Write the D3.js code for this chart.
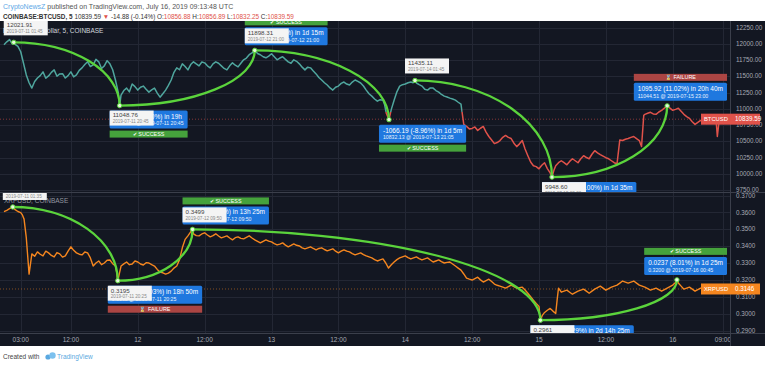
<!DOCTYPE html>
<html>
<head>
<meta charset="utf-8">
<script src="https://cdn.jsdelivr.net/npm/d3@7/dist/d3.min.js"></script>
<style>
  body { margin: 0; background: #fff; }
  svg { display: block; font-family: "Liberation Sans", Arial, sans-serif; }
</style>
</head>
<body>
<svg id="chart" width="768" height="366"></svg>
<script>
// hours after 2019-07-11 00:00 UTC
const btcHours = [0,1,1.75,2,3,4,5,6,7,8,9,10,11,12,13,14,15,16,17,18,19,20,20.75,21,22,23,24,25,26,27,28,29,30,31,32,33,34,35,36,37,38,39,40,41,42,43,44,45,46,47,48,49,50,51,52,53,54,55,56,57,58,59,60,61,62,63,64,65,66,67,68,68.6,69.08,69.5,70,71,72,73,73.75,74,75,76,77,78,79,80,81,82,82.5,83,84,85,86,87,88,89,90,91,92,93,94,95,96,97,98,98.33,99,100,101,102,103,104,105,106,107,108,109,110,110.5,111,112,113,114,114.4,114.8,115,116,117,118,119,120,121,122,123,124,125,126,127,127.8,128,128.3,129,129.22];
const btcPrices = [11986,12064,12021.91,11990,11877,11520,11318,11473,11567,11505,11598,11536,11473,11567,11520,11629,11722,11675,11722,11660,11691,11442,11048.76,11210,11318,11380,11287,11349,11256,11318,11178,11287,11442,11629,11691,11598,11722,11660,11706,11629,11722,11660,11598,11706,11644,11753,11831,11898.31,11831,11784,11846,11753,11800,11722,11753,11691,11598,11629,11536,11442,11365,11287,11349,11411,11365,11442,11396,11287,11194,11116,11132,10930,10832.13,10990,11132,11349,11380,11411,11435.11,11396,11349,11287,11318,11256,11194,11163,11132,11070,10760,10728,10697,10666,10728,10573,10464,10511,10589,10542,10417,10511,10278,10122,10076,10169,10014,9948.60,10122,10200,10138,10231,10169,10278,10231,10355,10293,10247,10200,10153,10520,10511,10542,10573,10511,10420,10900,10914,10945,10914,10976,11044.51,10976,11007,10914,10852,10759,10821,10775,10852,10800,10573,10800,10860,10839.59];
// in-between readings of the same line
const btcMidHours = [0.5,1.5,2.5,3.5,4.5,5.5,6.5,7.5,8.5,9.5,10.5,11.5,12.5,13.5,14.5,15.5,16.5,17.5,18.5,19.5,20.5,21.5,22.5,23.5,24.5,25.5,26.5,27.5,28.5,29.5,30.5,31.5,32.5,33.5,34.5,35.5,36.5,37.5,38.5,39.5,40.5,41.5,42.5,43.5,44.5,45.5,46.5,47.5,48.5,49.5,50.5,51.5,52.5,53.5,54.5,55.5,56.5,57.5,58.5,59.5,60.5,61.5,62.5,63.5,64.5,65.5,66.5,67.5,68.3,70.5,71.5,72.5,73.4,74.5,75.5,76.5,77.5,78.5,79.5,80.5,81.5,83.5,84.5,85.5,86.5,87.5,88.5,89.5,90.5,91.5,92.5,93.5,94.5,95.5,96.5,97.5,98.7,99.5,100.5,101.5,102.5,103.5,104.5,105.5,106.5,107.5,108.5,109.5,111.5,112.5,113.5,115.5,116.5,117.5,118.5,119.5,120.5,121.5,122.5,123.5,124.5,125.5,126.5,128.6];
const btcMidPrices = [12030,11995,11960,11700,11400,11420,11510,11470,11560,11500,11540,11510,11490,11590,11680,11650,11760,11620,11740,11600,11250,11280,11260,11340,11330,11300,11290,11240,11230,11360,11560,11600,11650,11680,11690,11720,11660,11690,11700,11620,11660,11670,11700,11780,11860,11850,11800,11810,11800,11780,11760,11700,11730,11640,11640,11580,11480,11400,11320,11330,11390,11380,11410,11420,11350,11230,11150,11140,11060,11260,11370,11400,11400,11370,11300,11320,11280,11220,11180,11150,11100,10690,10720,10700,10640,10520,10480,10560,10560,10470,10460,10380,10180,10110,10130,10080,10060,10170,10170,10190,10200,10230,10250,10300,10320,10270,10230,10170,10530,10560,10540,10930,10920,10950,11010,11010,10990,10960,10880,10800,10790,10800,10810,10820];

const xrpHours = [0,1,1.58,2,3,3.6,4,4.5,5,6,7,8,9,10,11,12,13,14,15,16,17,18,19,20,20.42,21,22,23,24,25,26,27,28,29,30,31,32,33,33.83,34,35,36,37,38,39,40,41,42,43,44,45,46,47,48,49,50,51,52,53,54,55,56,57,58,59,60,61,62,63,64,65,66,67,68,69,70,71,72,73,74,75,76,77,78,79,80,81,82,83,84,85,86,87,88,89,90,91,92,93,94,95,96,96.25,97,98,99,99.5,100,101,102,103,104,105,106,107,108,109,110,111,112,113,114,115,116,117,118,119,120,120.75,121,122,123,124,125,126,127,128,129,129.22];
const xrpPrices = [0.3604,0.3622,0.3632,0.3616,0.3599,0.3560,0.3450,0.3234,0.3354,0.3366,0.3342,0.3360,0.3336,0.3354,0.3342,0.3396,0.3360,0.3348,0.3360,0.3282,0.3312,0.3300,0.3318,0.3282,0.3195,0.3282,0.3306,0.3294,0.3306,0.3288,0.3300,0.3282,0.3246,0.3234,0.3252,0.3282,0.3390,0.3461,0.3499,0.3473,0.3461,0.3479,0.3455,0.3473,0.3449,0.3461,0.3437,0.3455,0.3443,0.3461,0.3437,0.3419,0.3437,0.3425,0.3407,0.3419,0.3396,0.3413,0.3401,0.3384,0.3396,0.3378,0.3390,0.3372,0.3384,0.3360,0.3378,0.3366,0.3348,0.3360,0.3342,0.3330,0.3312,0.3324,0.3270,0.3306,0.3330,0.3342,0.3324,0.3336,0.3318,0.3330,0.3306,0.3318,0.3300,0.3306,0.3282,0.3258,0.3210,0.3199,0.3216,0.3187,0.3204,0.3175,0.3163,0.3151,0.3169,0.3151,0.3157,0.3121,0.3079,0.3043,0.2961,0.3007,0.3031,0.3001,0.3151,0.3127,0.3139,0.3115,0.3133,0.3145,0.3121,0.3145,0.3163,0.3139,0.3157,0.3169,0.3193,0.3181,0.3193,0.3169,0.3157,0.3139,0.3151,0.3133,0.3151,0.3169,0.3200,0.3181,0.3145,0.3157,0.3133,0.3151,0.3139,0.3163,0.3127,0.3150,0.3146];
const xrpMidHours = [0.5,1.3,2.5,3.3,5.5,6.5,7.5,8.5,9.5,10.5,11.5,12.5,13.5,14.5,15.5,16.5,17.5,18.5,19.5,20.2,21.5,22.5,23.5,24.5,25.5,26.5,27.5,28.5,29.5,30.5,31.5,32.5,33.4,34.5,35.5,36.5,37.5,38.5,39.5,40.5,41.5,42.5,43.5,44.5,45.5,46.5,47.5,48.5,49.5,50.5,51.5,52.5,53.5,54.5,55.5,56.5,57.5,58.5,59.5,60.5,61.5,62.5,63.5,64.5,65.5,66.5,67.5,68.5,69.5,70.5,71.5,72.5,73.5,74.5,75.5,76.5,77.5,78.5,79.5,80.5,81.5,82.5,83.5,84.5,85.5,86.5,87.5,88.5,89.5,90.5,91.5,92.5,93.5,94.5,95.5,96.1,96.6,97.5,98.5,99.25,99.75,100.5,101.5,102.5,103.5,104.5,105.5,106.5,107.5,108.5,109.5,110.5,111.5,112.5,113.5,114.5,115.5,116.5,117.5,118.5,119.5,120.5,121.5,122.5,123.5,124.5,125.5,126.5,127.5,128.5];
const xrpMidPrices = [0.3612,0.3628,0.3605,0.3585,0.3340,0.3352,0.3370,0.3345,0.3362,0.3335,0.3370,0.3375,0.3352,0.3365,0.3330,0.3300,0.3290,0.3316,0.3296,0.3250,0.3295,0.3290,0.3312,0.3294,0.3302,0.3290,0.3262,0.3242,0.3240,0.3270,0.3320,0.3440,0.3480,0.3462,0.3472,0.3466,0.3462,0.3460,0.3455,0.3448,0.3450,0.3446,0.3452,0.3448,0.3428,0.3428,0.3430,0.3415,0.3412,0.3406,0.3404,0.3405,0.3390,0.3390,0.3386,0.3386,0.3380,0.3378,0.3370,0.3370,0.3370,0.3356,0.3354,0.3350,0.3336,0.3320,0.3318,0.3300,0.3290,0.3320,0.3336,0.3332,0.3330,0.3326,0.3324,0.3318,0.3312,0.3308,0.3304,0.3294,0.3270,0.3235,0.3204,0.3208,0.3200,0.3196,0.3190,0.3168,0.3157,0.3160,0.3160,0.3154,0.3140,0.3100,0.3060,0.3010,0.2990,0.3020,0.3015,0.3080,0.3140,0.3133,0.3127,0.3124,0.3139,0.3133,0.3133,0.3154,0.3151,0.3148,0.3163,0.3181,0.3187,0.3187,0.3181,0.3163,0.3148,0.3145,0.3142,0.3142,0.3160,0.3185,0.3163,0.3151,0.3145,0.3142,0.3145,0.3151,0.3145,0.3138];

const btcTicks = [12250,12000,11750,11500,11250,11000,10750,10500,10250,10000,9750];
const xrpTicks = [0.37,0.36,0.35,0.34,0.33,0.32,0.31,0.30,0.29];
const timeTickHours = [3,12,24,36,48,60,72,84,96,108,120,129];
const timeTickLabels = ["03:00","12:00","12","12:00","13","12:00","14","12:00","15","12:00","16","09:00"];

// forecast points and the arcs between them
const btcPointHours = [1.75,20.75,45,69.08,73.75,98.33,119];
const btcPointPrices = [12021.91,11048.76,11898.31,10832.13,11435.11,9948.60,11044.51];
const btcPointDates = ["2019-07-11 01:45","2019-07-11 20:45","2019-07-12 21:00","2019-07-13 21:05","2019-07-14 01:45","2019-07-15 02:20","2019-07-15 23:00"];
const btcArcs = [[0,1],[1,2],[2,3],[4,5],[5,6]];
const btcChanges = ["-973.15 (-8.10%) in 19h","849.55 (7.69%) in 1d 15m","-1066.19 (-8.96%) in 1d 5m","-1486.51 (-13.00%) in 1d 35m","1095.92 (11.02%) in 20h 40m"];
const btcStatus = ["SUCCESS","SUCCESS","SUCCESS","SUCCESS","FAILURE"];
const btcWhite = [0,1,2,4,5];

const xrpPointHours = [1.58,20.42,33.83,96.25,120.75];
const xrpPointPrices = [0.3632,0.3195,0.3499,0.2961,0.3200];
const xrpPointDates = ["2019-07-11 01:35","2019-07-11 20:25","2019-07-12 09:50","2019-07-15 00:15","2019-07-16 00:45"];
const xrpArcs = [[0,1],[1,2],[2,3],[3,4]];
const xrpChanges = ["-0.0437 (-12.03%) in 18h 50m","0.0304 (9.51%) in 13h 25m","-0.0535 (-15.29%) in 2d 14h 25m","0.0237 (8.01%) in 1d 25m"];
const xrpStatus = ["FAILURE","SUCCESS","SUCCESS","SUCCESS"];
const xrpWhite = [0,1,2,3];

const btcLast = 10839.59, xrpLast = 0.3146;

// ---------------------------------------------------------------
const svg = d3.select("#chart");
const plotR = 730, axisR = 765;
const topPane = [21, 192], botPane = [193, 333], chartBottom = 346;
const bg = "#131722", gridC = "#232734", sepC = "#3b3f4b", axisTxt = "#a6a9b2";
const teal = "#4fa69e", red = "#e0524a", orange = "#f5861f", arcC = "#5bd43c";
const blueBox = "#1f78df", greenBar = "#45a23c", redBar = "#ab4543";

const t0 = Date.UTC(2019, 6, 11, 0, 0);
const toDate = h => new Date(t0 + h * 3600000);

const x = d3.scaleTime().domain([toDate(0), toDate(129.25)]).range([4, 724.3]);
const yBtc = d3.scaleLinear().domain([9750, 12250]).range([190, 27.5]);
const yXrp = d3.scaleLinear().domain([0.29, 0.37]).range([330.5, 195.5]);

const defs = svg.append("defs");
function clip(id, x0, y0, w, h) {
  defs.append("clipPath").attr("id", id).append("rect")
    .attr("x", x0).attr("y", y0).attr("width", w).attr("height", h);
}
clip("clipTop", 0, topPane[0], plotR, topPane[1] - topPane[0]);
clip("clipBot", 0, botPane[0], plotR, botPane[1] - botPane[0]);
clip("clipTime", 0, botPane[1], plotR, chartBottom - botPane[1]);
const xSwitch = x(toDate(82.3)), yLow = yBtc(10950);
clip("clipTeal", 0, 0, xSwitch, yLow);
const redClip = defs.append("clipPath").attr("id", "clipRed");
redClip.append("rect").attr("x", xSwitch).attr("y", 0).attr("width", 800).attr("height", 400);
redClip.append("rect").attr("x", 0).attr("y", yLow).attr("width", 800).attr("height", 400);

// header
const h1 = svg.append("text").attr("x", 3).attr("y", 9).attr("font-size", 7);
h1.append("tspan").attr("fill", "#5ea9e6").text("CryptoNewsZ");
h1.append("tspan").attr("fill", "#555").text(" published on TradingView.com, July 16, 2019 09:13:48 UTC");
const h2 = svg.append("text").attr("x", 3).attr("y", 18.5).attr("font-size", 6.4).attr("fill", "#333");
h2.append("tspan").attr("font-weight", "bold").text("COINBASE:BTCUSD, 5 ");
h2.append("tspan").text(" 10839.59 ");
h2.append("tspan").attr("fill", red).text("▼");
h2.append("tspan").text(" -14.88 (-0.14%) O:");
h2.append("tspan").attr("fill", red).text("10856.88");
h2.append("tspan").text(" H:");
h2.append("tspan").attr("fill", red).text("10856.89");
h2.append("tspan").text(" L:");
h2.append("tspan").attr("fill", red).text("10832.25");
h2.append("tspan").text(" C:");
h2.append("tspan").attr("fill", red).text("10839.59");

// chart background
svg.append("rect").attr("x", 0).attr("y", topPane[0]).attr("width", axisR).attr("height", chartBottom - topPane[0]).attr("fill", bg);

// grid
const gridG = svg.append("g").attr("stroke", gridC).attr("stroke-width", 1);
btcTicks.forEach(v => gridG.append("line").attr("x1", 0).attr("x2", plotR)
  .attr("y1", Math.round(yBtc(v)) + 0.5).attr("y2", Math.round(yBtc(v)) + 0.5));
xrpTicks.forEach(v => gridG.append("line").attr("x1", 0).attr("x2", plotR)
  .attr("y1", Math.round(yXrp(v)) + 0.5).attr("y2", Math.round(yXrp(v)) + 0.5));
timeTickHours.forEach(h => {
  const xx = Math.round(x(toDate(h))) + 0.5;
  if (xx < plotR) {
    gridG.append("line").attr("x1", xx).attr("x2", xx).attr("y1", topPane[0]).attr("y2", topPane[1]);
    gridG.append("line").attr("x1", xx).attr("x2", xx).attr("y1", botPane[0]).attr("y2", botPane[1]);
  }
});

// separators
const sepG = svg.append("g").attr("stroke", sepC).attr("stroke-width", 1);
sepG.append("line").attr("x1", plotR + 0.5).attr("x2", plotR + 0.5).attr("y1", topPane[0]).attr("y2", chartBottom);
sepG.append("line").attr("x1", 0).attr("x2", axisR).attr("y1", topPane[1] + 0.5).attr("y2", topPane[1] + 0.5);
sepG.append("line").attr("x1", 0).attr("x2", axisR).attr("y1", botPane[1] + 0.5).attr("y2", botPane[1] + 0.5);

const topG = svg.append("g").attr("clip-path", "url(#clipTop)");
const botG = svg.append("g").attr("clip-path", "url(#clipBot)");

// last price lines
topG.append("line").attr("x1", 0).attr("x2", plotR).attr("y1", yBtc(btcLast)).attr("y2", yBtc(btcLast))
  .attr("stroke", red).attr("stroke-opacity", 0.55).attr("stroke-dasharray", "1,2");
botG.append("line").attr("x1", 0).attr("x2", plotR).attr("y1", yXrp(xrpLast)).attr("y2", yXrp(xrpLast))
  .attr("stroke", orange).attr("stroke-opacity", 0.5).attr("stroke-dasharray", "1,2");

// series
function series(hours, prices, midHours, midPrices) {
  return hours.map((h, i) => ({ h, v: prices[i] }))
    .concat(midHours.map((h, i) => ({ h, v: midPrices[i] })))
    .sort((a, b) => a.h - b.h)
    .map(d => ({ t: toDate(d.h), v: d.v }));
}
const btcData = series(btcHours, btcPrices, btcMidHours, btcMidPrices);
const xrpData = series(xrpHours, xrpPrices, xrpMidHours, xrpMidPrices);
const btcLine = d3.line().x(d => x(d.t)).y(d => yBtc(d.v));
const xrpLine = d3.line().x(d => x(d.t)).y(d => yXrp(d.v));

topG.append("g").attr("clip-path", "url(#clipTeal)").append("path").datum(btcData)
  .attr("d", btcLine).attr("fill", "none").attr("stroke", teal).attr("stroke-width", 1.5).attr("stroke-linejoin", "round");
topG.append("g").attr("clip-path", "url(#clipRed)").append("path").datum(btcData)
  .attr("d", btcLine).attr("fill", "none").attr("stroke", red).attr("stroke-width", 1.5).attr("stroke-linejoin", "round");
botG.append("path").datum(xrpData)
  .attr("d", xrpLine).attr("fill", "none").attr("stroke", orange).attr("stroke-width", 1.4).attr("stroke-linejoin", "round");

// legends
topG.append("text").attr("x", 3).attr("y", 32.5).attr("font-size", 6.5).attr("fill", "#d1d4dc").text("Bitcoin / U.S. Dollar, 5, COINBASE");
botG.append("text").attr("x", 4).attr("y", 202.5).attr("font-size", 6.5).attr("fill", "#9598a1").text("XRPUSD, COINBASE");

// forecast arcs
function arcPath(x1, y1, x2, y2) {
  return `M${x1},${y1} A${Math.abs(x2 - x1)},${Math.abs(y2 - y1)} 0 0 ${y2 > y1 ? 1 : 0} ${x2},${y2}`;
}
function drawArcs(g, hours, prices, arcs, yS) {
  arcs.forEach(([a, b]) => {
    g.append("path")
      .attr("d", arcPath(x(toDate(hours[a])), yS(prices[a]), x(toDate(hours[b])), yS(prices[b])))
      .attr("fill", "none").attr("stroke", arcC).attr("stroke-width", 2.3);
  });
  const used = new Set(arcs.flat());
  used.forEach(i => g.append("circle").attr("cx", x(toDate(hours[i]))).attr("cy", yS(prices[i]))
    .attr("r", 2.2).attr("fill", "#e4f7dc").attr("stroke", arcC).attr("stroke-width", 1));
}
drawArcs(topG, btcPointHours, btcPointPrices, btcArcs, yBtc);
drawArcs(botG, xrpPointHours, xrpPointPrices, xrpArcs, yXrp);

// tags
function blueTag(g, ax, ay, l1, l2, status, above) {
  const bh = 18;
  const top = above ? ay - 5 - bh : ay + 5;
  const grp = g.append("g");
  const r = grp.append("rect").attr("y", top).attr("height", bh).attr("rx", 1.5).attr("fill", blueBox);
  const t1 = grp.append("text").attr("y", top + 8).attr("font-size", 6.5).attr("fill", "#fff").text(l1);
  const t2 = grp.append("text").attr("y", top + 14.8).attr("font-size", 5.2).attr("fill", "#e8f1fc").text(l2);
  const w = Math.max(t1.node().getComputedTextLength(), t2.node().getComputedTextLength()) + 8;
  const left = Math.min(ax - 10, plotR - 3 - w);
  r.attr("x", left).attr("width", w);
  t1.attr("x", left + 4);
  t2.attr("x", left + 4);
  const sy = above ? top - 9 : top + bh + 2;
  grp.append("rect").attr("x", left).attr("y", sy).attr("width", w).attr("height", 7)
    .attr("fill", status === "SUCCESS" ? greenBar : redBar);
  grp.append("text").attr("x", left + w / 2).attr("y", sy + 5.4).attr("text-anchor", "middle")
    .attr("font-size", 5.4).attr("fill", "#fff").text((status === "SUCCESS" ? "✔ " : "⌛ ") + status);
}
function whiteTag(g, ax, ay, val, date, above) {
  const top = above ? ay - 22 : ay + 5;
  const left = ax - 10;
  g.append("rect").attr("x", left).attr("y", top).attr("width", 44).attr("height", 15).attr("fill", "#f4f4f4");
  g.append("text").attr("x", left + 3).attr("y", top + 6.8).attr("font-size", 6.2).attr("fill", "#444").text(val);
  g.append("text").attr("x", left + 3).attr("y", top + 12.6).attr("font-size", 4.6).attr("fill", "#888").text(date);
}
function drawTags(g, hours, prices, dates, arcs, changes, status, whites, yS, fmt) {
  arcs.forEach(([a, b], k) => {
    const ax = x(toDate(hours[b])), ay = yS(prices[b]);
    blueTag(g, ax, ay, changes[k], fmt(prices[b]) + " @ " + dates[b], status[k], prices[b] > prices[a]);
  });
  whites.forEach(i => {
    const ax = x(toDate(hours[i])), ay = yS(prices[i]);
    const arcIn = arcs.find(([a, b]) => b === i);
    const above = arcIn ? prices[i] > prices[arcIn[0]] : true;
    whiteTag(g, ax, ay, fmt(prices[i]), dates[i], above);
  });
}
drawTags(topG, btcPointHours, btcPointPrices, btcPointDates, btcArcs, btcChanges, btcStatus, btcWhite, yBtc, d3.format(".2f"));
drawTags(botG, xrpPointHours, xrpPointPrices, xrpPointDates, xrpArcs, xrpChanges, xrpStatus, xrpWhite, yXrp, d3.format(".4f"));

// price axes
const axG = svg.append("g").attr("font-size", 6.3).attr("fill", axisTxt);
btcTicks.forEach(v => axG.append("text").attr("x", 736).attr("y", yBtc(v) + 2.2).text(d3.format(".2f")(v)));
xrpTicks.forEach(v => axG.append("text").attr("x", 736).attr("y", yXrp(v) + 2.2).text(d3.format(".4f")(v)));

// last price tags
function lastTag(yy, color, name, val) {
  svg.append("rect").attr("x", 701).attr("y", yy - 5.5).attr("width", 59).attr("height", 11).attr("fill", color);
  svg.append("text").attr("x", 704).attr("y", yy + 2).attr("font-size", 5.8).attr("fill", "#fff").text(name);
  svg.append("text").attr("x", 735).attr("y", yy + 2.2).attr("font-size", 6.3).attr("fill", "#fff").text(val);
}
lastTag(yBtc(btcLast), red, "BTCUSD", d3.format(".2f")(btcLast));
lastTag(yXrp(xrpLast), orange, "XRPUSD", d3.format(".4f")(xrpLast));

// time axis
const tG = svg.append("g").attr("clip-path", "url(#clipTime)").attr("font-size", 6.5).attr("fill", axisTxt).attr("text-anchor", "middle");
timeTickHours.forEach((h, i) => tG.append("text").attr("x", x(toDate(h))).attr("y", 341.5).text(timeTickLabels[i]));

// footer
svg.append("text").attr("x", 3).attr("y", 359).attr("font-size", 6.5).attr("fill", "#444").text("Created with");
const logo = svg.append("g").attr("fill", "#5aa8e0");
logo.append("circle").attr("cx", 48).attr("cy", 357).attr("r", 2.6);
logo.append("circle").attr("cx", 52.5).attr("cy", 355.5).attr("r", 3.2).attr("fill", "#7cc0ee");
svg.append("text").attr("x", 57).attr("y", 359).attr("font-size", 6.5).attr("fill", "#5aa8e0").text("TradingView");
</script>
</body>
</html>
